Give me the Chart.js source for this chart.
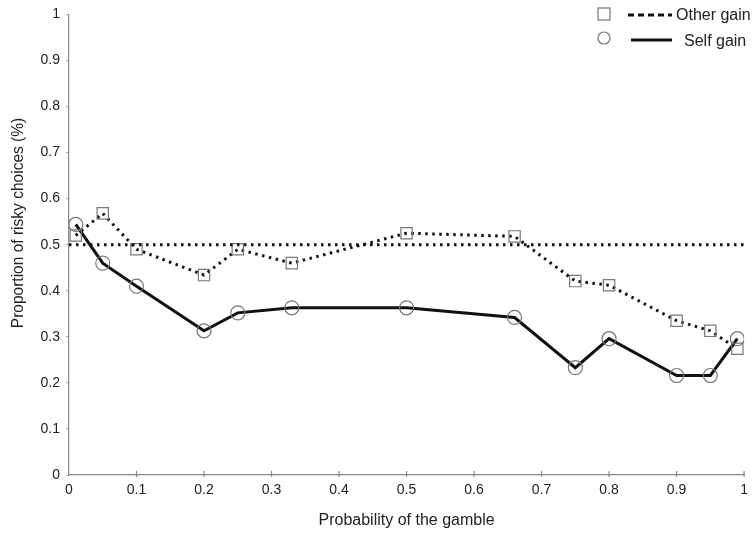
<!DOCTYPE html>
<html>
<head>
<meta charset="utf-8">
<script src="https://cdn.jsdelivr.net/npm/chart.js@4"></script>
<style>
  html, body { margin: 0; padding: 0; background: #fff; }
  #wrap { width: 755px; height: 534px; }
</style>
</head>
<body>
<div id="wrap"><canvas id="riskChart" width="755" height="534"></canvas></div>
<script>
// probability levels of the gamble
var probs = [0.01, 0.05, 0.1, 0.2, 0.25, 0.33, 0.5, 0.66, 0.75, 0.8, 0.9, 0.95, 0.99];
var otherGain = [0.52, 0.568, 0.49, 0.434, 0.49, 0.46, 0.525, 0.518, 0.421, 0.412, 0.335, 0.313, 0.274];
var selfGain = [0.544, 0.46, 0.41, 0.313, 0.352, 0.363, 0.363, 0.342, 0.233, 0.296, 0.216, 0.216, 0.296];
var refLevel = 0.5;
var xTicks = [0, 0.1, 0.2, 0.3, 0.4, 0.5, 0.6, 0.7, 0.8, 0.9, 1];
var yTicks = [0, 0.1, 0.2, 0.3, 0.4, 0.5, 0.6, 0.7, 0.8, 0.9, 1];

function toPoints(xs, ys) {
    return xs.map(function(x, i) { return { x: x, y: ys[i] }; });
}

// inward tick marks on the x axis
var innerTicks = {
    id: 'innerTicks',
    afterDraw: function(chart) {
        var ctx = chart.ctx;
        var xs = chart.scales.x;
        var bottom = chart.chartArea.bottom + 2;
        ctx.save();
        ctx.strokeStyle = '#888';
        ctx.lineWidth = 1.2;
        xTicks.forEach(function(v) {
            if (v === 0) return;
            var px = xs.getPixelForValue(v);
            ctx.beginPath();
            ctx.moveTo(px, bottom);
            ctx.lineTo(px, bottom - 6);
            ctx.stroke();
        });
        ctx.restore();
    }
};

// y title sits a little above the axis centre in the original
var yTitle = {
    id: 'yTitle',
    afterDraw: function(chart) {
        var ctx = chart.ctx;
        ctx.save();
        ctx.translate(19, 223);
        ctx.rotate(-Math.PI / 2);
        ctx.scale(0.97, 1);
        ctx.fillStyle = '#222';
        ctx.font = '16px "Liberation Sans", Arial';
        ctx.textAlign = 'center';
        ctx.textBaseline = 'middle';
        ctx.fillText('Proportion of risky choices (%)', 0, 0);
        ctx.restore();
    }
};

// legend in the top right corner
var cornerLegend = {
    id: 'cornerLegend',
    afterDraw: function(chart) {
        var ctx = chart.ctx;
        ctx.save();
        ctx.strokeStyle = '#777';
        ctx.lineWidth = 1.2;
        ctx.strokeRect(598, 8, 12, 12);
        ctx.beginPath();
        ctx.arc(604, 38, 6, 0, Math.PI * 2);
        ctx.stroke();

        ctx.strokeStyle = '#111';
        ctx.lineWidth = 3;
        ctx.setLineDash([6, 4]);
        ctx.beginPath();
        ctx.moveTo(628, 15);
        ctx.lineTo(672, 15);
        ctx.stroke();
        ctx.setLineDash([]);
        ctx.beginPath();
        ctx.moveTo(631, 40);
        ctx.lineTo(672, 40);
        ctx.stroke();

        ctx.fillStyle = '#222';
        ctx.font = '16px "Liberation Sans", Arial';
        ctx.textBaseline = 'middle';
        ctx.fillText('Other gain', 676, 16);
        ctx.fillText('Self gain', 684, 42);
        ctx.restore();
    }
};

var ctx = document.getElementById('riskChart').getContext('2d');
var myChart = new Chart(ctx, {
    type: 'scatter',
    data: {
        datasets: [{
            label: 'Reference',
            data: [{ x: 0, y: refLevel }, { x: 1, y: refLevel }],
            showLine: true,
            borderColor: '#111',
            borderWidth: 3,
            borderDash: [2.5, 4.5],
            pointRadius: 0,
        }, {
            label: 'Other gain',
            data: toPoints(probs, otherGain),
            showLine: true,
            borderColor: '#111',
            borderWidth: 3,
            borderDash: [2.5, 4.5],
            pointStyle: 'rect',
            pointRadius: 8,
            pointBorderColor: '#777',
            pointBorderWidth: 1.2,
            pointBackgroundColor: 'rgba(0,0,0,0)',
        }, {
            label: 'Self gain',
            data: toPoints(probs, selfGain),
            showLine: true,
            borderColor: '#111',
            borderWidth: 3,
            pointStyle: 'circle',
            pointRadius: 7,
            pointBorderColor: '#777',
            pointBorderWidth: 1.2,
            pointBackgroundColor: 'rgba(0,0,0,0)',
        }],
    },
    options: {
        responsive: false,
        animation: false,
        layout: { padding: { top: 12, right: 7, left: 0, bottom: 0 } },
        plugins: {
            legend: { display: false },
            tooltip: { enabled: false },
        },
        scales: {
            x: {
                type: 'linear',
                min: 0,
                max: 1,
                afterBuildTicks: function(scale) {
                    scale.ticks = xTicks.map(function(v) { return { value: v }; });
                },
                afterFit: function(scale) { scale.height = 59; },
                grid: { display: false, drawTicks: false },
                border: { color: '#888', width: 1.2 },
                ticks: {
                    color: '#222',
                    padding: 7,
                    maxRotation: 0,
                    font: { family: '"Liberation Sans", Arial', size: 14 },
                    callback: function(v) { return String(v); },
                },
                title: {
                    display: true,
                    text: 'Probability of the gamble',
                    color: '#222',
                    padding: { top: 10 },
                    font: { family: '"Liberation Sans", Arial', size: 16 },
                },
            },
            y: {
                min: 0,
                max: 1,
                afterBuildTicks: function(scale) {
                    scale.ticks = yTicks.map(function(v) { return { value: v }; });
                },
                afterFit: function(scale) { scale.width = 69; },
                grid: { display: true, drawOnChartArea: false, tickLength: 3, color: '#aaa' },
                border: { color: '#888', width: 1.2 },
                ticks: {
                    color: '#222',
                    padding: 6,
                    font: { family: '"Liberation Sans", Arial', size: 14 },
                    callback: function(v) { return String(v); },
                },
            },
        },
    },
    plugins: [innerTicks, yTitle, cornerLegend],
});
</script>
</body>
</html>
